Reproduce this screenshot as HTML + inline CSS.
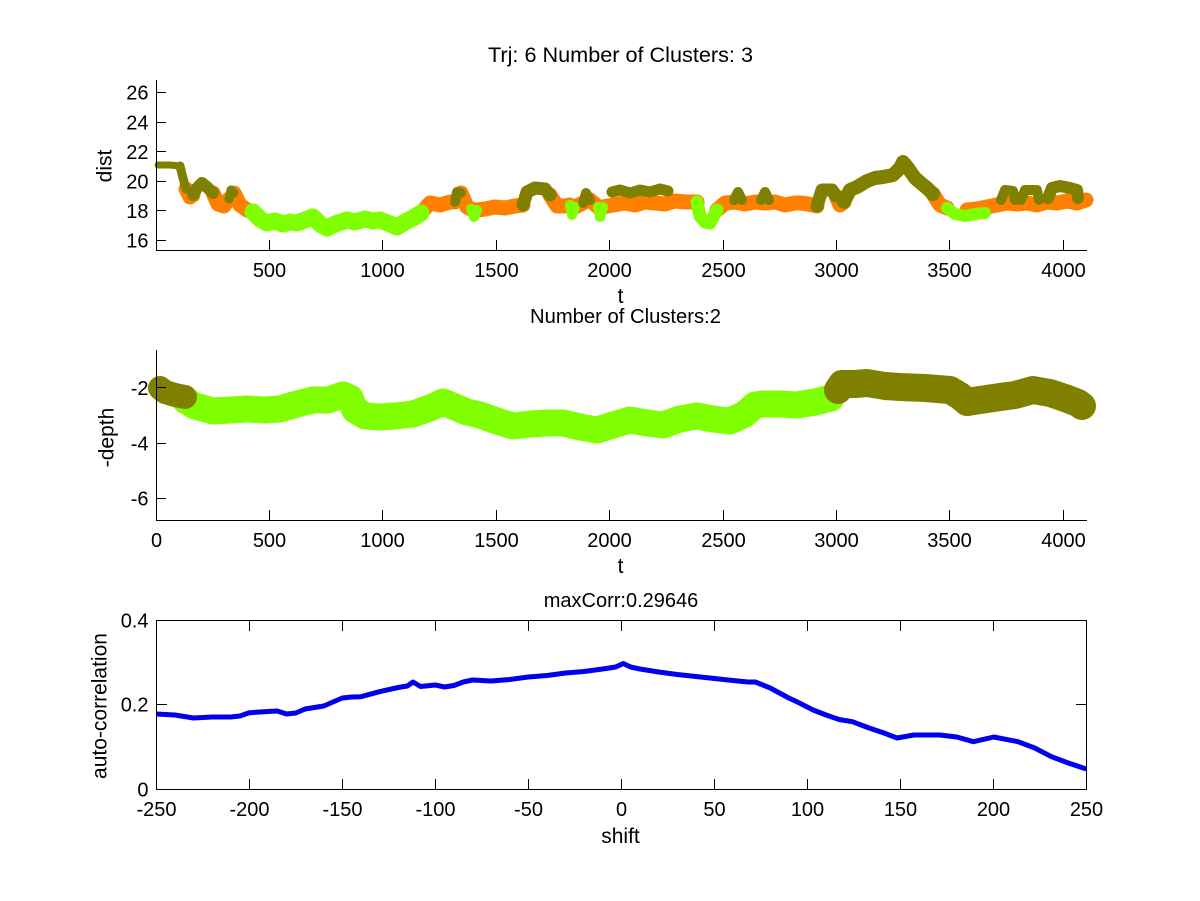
<!DOCTYPE html>
<html>
<head>
<meta charset="utf-8">
<style>
  html,body{margin:0;padding:0;background:#fff;}
  svg{display:block;}
  text{font-family:"Liberation Sans",Arial,sans-serif;fill:#000;}
</style>
</head>
<body>
<svg width="1200" height="901" viewBox="0 0 1200 901" xmlns="http://www.w3.org/2000/svg">
<rect x="0" y="0" width="1200" height="901" fill="#fff"/>

<!-- ================= TOP PLOT ================= -->
<g fill="none" stroke-linejoin="round" stroke-linecap="round">
  <g stroke="#ff8000" stroke-width="15">
    <polyline points="186,189 190,197 193,195"/>
    <polyline points="213,193 218,204 224,206 229,199"/>
    <polyline points="234,193 240,205 247,210 253,212"/>
    <polyline points="421,213 430,203 440,205 450,202 455,202"/>
    <polyline points="461,193 467,207 471,209"/>
    <polyline points="477,210 485,209 495,207 505,208 515,206 523,205"/>
    <polyline points="550,195 557,206 565,206 570,205"/>
    <polyline points="575,207 583,203"/>
    <polyline points="590,200 598,207"/>
    <polyline points="603,207 613,205 625,203 635,205 645,202 655,203 665,204 675,201 685,202 697,202"/>
    <polyline points="717,210 725,203 735,202 745,204 755,202 765,203 775,202 785,205 795,203 800,203 808,204 817,206"/>
    <polyline points="836,196 840,205 844,202"/>
    <polyline points="933,194 940,205 947,208"/>
    <polyline points="967,210 977,209 987,207 997,205 1007,203 1017,204 1027,203 1037,205 1047,202 1057,203 1067,201 1077,203 1086,200"/>
  </g>
  <g stroke="#80ff00">
    <polyline stroke-width="17" points="253,212 260,219 267,223 275,221 283,224 290,222 297,223 305,220 313,217 320,224 327,228 335,224 347,220 355,222 365,219 373,221 380,220 390,224 397,227 405,222 413,218 421,213"/>
    <polyline stroke-width="10" points="471,209 474,217 477,210"/>
    <polyline stroke-width="10" points="570,205 572,215 575,207"/>
    <polyline stroke-width="10" points="598,207 600,217 603,207"/>
    <polyline stroke-width="13" points="697,202 700,216 705,222 710,223 717,210"/>
    <polyline stroke-width="12" points="947,208 955,214 965,216 975,214 985,213"/>
  </g>
  <g stroke="#808000">
    <polyline stroke-width="7" points="158,165 170,165 180,166"/>
    <polyline stroke-width="9" points="180,166 183,178 186,189"/>
    <polyline stroke-width="12" points="193,195 197,188 202,183 208,188 213,193"/>
    <polyline stroke-width="9" points="229,199 231,190 234,193"/>
    <polyline stroke-width="10" points="455,202 457,192 461,193"/>
    <polyline stroke-width="13" points="523,205 527,192 535,188 545,189 550,195"/>
    <polyline stroke-width="10" points="583,203 586,193 590,200"/>
    <polyline stroke-width="11" points="612,192 620,190 630,193 640,190 650,192 660,189 668,191"/>
    <polyline stroke-width="10" points="734,200 738,192 742,200"/>
    <polyline stroke-width="10" points="761,200 765,192 769,200"/>
    <polyline stroke-width="13" points="817,206 822,190 832,190 836,196"/>
    <polyline stroke-width="14" points="844,202 850,190 857,187 867,181 875,178 883,177 893,175 900,168 903,162 908,168 915,178 922,184 927,188 933,194"/>
    <polyline stroke-width="10" points="1001,200 1005,190 1013,191 1015,200"/>
    <polyline stroke-width="10" points="1021,200 1025,190 1037,190 1039,200"/>
    <polyline stroke-width="12" points="1048,198 1052,188 1060,186 1070,188 1077,190 1078,198"/>
  </g>
</g>

<g stroke="#000" stroke-width="1" fill="none">
  <line x1="156.5" y1="80" x2="156.5" y2="250.5"/>
  <line x1="156" y1="250.5" x2="1087" y2="250.5"/>
  <line x1="269.5" y1="250" x2="269.5" y2="240"/>
  <line x1="382.5" y1="250" x2="382.5" y2="240"/>
  <line x1="496.5" y1="250" x2="496.5" y2="240"/>
  <line x1="609.5" y1="250" x2="609.5" y2="240"/>
  <line x1="723.5" y1="250" x2="723.5" y2="240"/>
  <line x1="836.5" y1="250" x2="836.5" y2="240"/>
  <line x1="949.5" y1="250" x2="949.5" y2="240"/>
  <line x1="1063.5" y1="250" x2="1063.5" y2="240"/>
  <line x1="156" y1="240.5" x2="166" y2="240.5"/>
  <line x1="156" y1="210.5" x2="166" y2="210.5"/>
  <line x1="156" y1="181.5" x2="166" y2="181.5"/>
  <line x1="156" y1="151.5" x2="166" y2="151.5"/>
  <line x1="156" y1="122.5" x2="166" y2="122.5"/>
  <line x1="156" y1="92.5" x2="166" y2="92.5"/>
</g>
<g font-size="20" text-anchor="middle">
  <text x="269.5" y="277">500</text>
  <text x="382.5" y="277">1000</text>
  <text x="496.5" y="277">1500</text>
  <text x="609.5" y="277">2000</text>
  <text x="723.5" y="277">2500</text>
  <text x="836.5" y="277">3000</text>
  <text x="949.5" y="277">3500</text>
  <text x="1063.5" y="277">4000</text>
</g>
<g font-size="20" text-anchor="end">
  <text x="148.5" y="247.5">16</text>
  <text x="148.5" y="218">18</text>
  <text x="148.5" y="188.5">20</text>
  <text x="148.5" y="159">22</text>
  <text x="148.5" y="129.5">24</text>
  <text x="148.5" y="99.5">26</text>
</g>
<text x="488" y="62" font-size="21" textLength="265" lengthAdjust="spacingAndGlyphs">Trj: 6 Number of Clusters: 3</text>
<text x="620.5" y="303" font-size="21" text-anchor="middle">t</text>
<text transform="translate(111.5,166) rotate(-90)" font-size="21" text-anchor="middle">dist</text>

<!-- ================= MIDDLE PLOT ================= -->
<g fill="none" stroke-linejoin="round" stroke-linecap="round">
  <polyline stroke="#80ff00" stroke-width="27" points="185,400 195,406 213,411 230,410 247,409 265,410 280,409 297,404 313,400 328,400 343,395 350,398 355,410 365,416 380,417 395,416 413,414 430,408 443,402 455,407 467,412 480,415 497,421 513,426 530,424 547,423 563,423 580,427 597,430 613,425 630,420 647,423 663,425 680,419 697,416 713,419 730,421 745,414 755,405 763,404 780,404 797,405 815,402 831,398"/>
  <polyline stroke="#808000" stroke-width="24" points="160,388 165,392 175,395 185,397"/>
  <polyline stroke="#808000" stroke-width="28" points="838,390 842,384 855,384 867,383 885,386 900,387 925,388 950,390 960,396 967,402 980,400 1000,397 1015,395 1033,390 1050,393 1065,398 1078,403 1082,406"/>
</g>
<g stroke="#000" stroke-width="1" fill="none">
  <line x1="156.5" y1="350" x2="156.5" y2="520.5"/>
  <line x1="156" y1="520.5" x2="1087" y2="520.5"/>
  <line x1="269.5" y1="520" x2="269.5" y2="510"/>
  <line x1="382.5" y1="520" x2="382.5" y2="510"/>
  <line x1="496.5" y1="520" x2="496.5" y2="510"/>
  <line x1="609.5" y1="520" x2="609.5" y2="510"/>
  <line x1="723.5" y1="520" x2="723.5" y2="510"/>
  <line x1="836.5" y1="520" x2="836.5" y2="510"/>
  <line x1="949.5" y1="520" x2="949.5" y2="510"/>
  <line x1="1063.5" y1="520" x2="1063.5" y2="510"/>
  <line x1="156" y1="387.5" x2="166" y2="387.5"/>
  <line x1="156" y1="443.5" x2="166" y2="443.5"/>
  <line x1="156" y1="498.5" x2="166" y2="498.5"/>
</g>
<g font-size="20" text-anchor="middle">
  <text x="156.5" y="547">0</text>
  <text x="269.5" y="547">500</text>
  <text x="382.5" y="547">1000</text>
  <text x="496.5" y="547">1500</text>
  <text x="609.5" y="547">2000</text>
  <text x="723.5" y="547">2500</text>
  <text x="836.5" y="547">3000</text>
  <text x="949.5" y="547">3500</text>
  <text x="1063.5" y="547">4000</text>
</g>
<g font-size="20" text-anchor="end">
  <text x="148.5" y="395">-2</text>
  <text x="148.5" y="450.5">-4</text>
  <text x="148.5" y="505.5">-6</text>
</g>
<text x="530" y="323" font-size="20.5" textLength="191" lengthAdjust="spacingAndGlyphs">Number of Clusters:2</text>
<text x="620.5" y="573" font-size="21" text-anchor="middle">t</text>
<text transform="translate(113.5,437.5) rotate(-90)" font-size="21" text-anchor="middle">-depth</text>

<!-- ================= BOTTOM PLOT ================= -->
<polyline fill="none" stroke="#0000ee" stroke-width="5" stroke-linejoin="round" points="156.3,714 174.9,715 193.5,718 212.1,717 230.7,717 240,716 249.3,712.7 267.9,711.5 277.2,711 286.5,714 295.8,713 305.1,709 323.7,706 333,702 342.3,698 351.6,697 360.9,696.7 379.5,691.7 398.1,687.5 407.4,686 413,682 420.5,686.5 435.3,685 444.6,687 453.9,685.5 463.2,682 472.5,680 491.1,681 509.7,679.5 528.3,677 546.9,675.5 565.5,673 584.1,671.5 602.7,669 615.7,667 623.2,663.5 630.7,667 640,669 658.6,672 677.2,674.5 695.8,676.5 714.4,678.5 733,680.5 747.9,682 755.3,682 770.2,688 788.8,698 800,703.3 813.1,710 826.1,715 839.1,719.5 852.4,721.7 869.1,728 884,733 897,738 913.8,735 939.9,735 956.7,737 973.4,741.7 993.8,737 1018,741.7 1034.7,748 1051.5,756.7 1068.3,763 1086.3,769"/>
<g stroke="#000" stroke-width="1" fill="none">
  <rect x="156.5" y="620.5" width="930" height="169"/>
  <line x1="249.5" y1="789" x2="249.5" y2="779"/>
  <line x1="342.5" y1="789" x2="342.5" y2="779"/>
  <line x1="435.5" y1="789" x2="435.5" y2="779"/>
  <line x1="528.5" y1="789" x2="528.5" y2="779"/>
  <line x1="621.5" y1="789" x2="621.5" y2="779"/>
  <line x1="714.5" y1="789" x2="714.5" y2="779"/>
  <line x1="807.5" y1="789" x2="807.5" y2="779"/>
  <line x1="900.5" y1="789" x2="900.5" y2="779"/>
  <line x1="993.5" y1="789" x2="993.5" y2="779"/>
  <line x1="249.5" y1="621" x2="249.5" y2="631"/>
  <line x1="342.5" y1="621" x2="342.5" y2="631"/>
  <line x1="435.5" y1="621" x2="435.5" y2="631"/>
  <line x1="528.5" y1="621" x2="528.5" y2="631"/>
  <line x1="621.5" y1="621" x2="621.5" y2="631"/>
  <line x1="714.5" y1="621" x2="714.5" y2="631"/>
  <line x1="807.5" y1="621" x2="807.5" y2="631"/>
  <line x1="900.5" y1="621" x2="900.5" y2="631"/>
  <line x1="993.5" y1="621" x2="993.5" y2="631"/>
  <line x1="157" y1="704.5" x2="167" y2="704.5"/>
  <line x1="1086" y1="704.5" x2="1076" y2="704.5"/>
</g>
<g font-size="20" text-anchor="middle">
  <text x="156.5" y="816">-250</text>
  <text x="249.5" y="816">-200</text>
  <text x="342.5" y="816">-150</text>
  <text x="435.5" y="816">-100</text>
  <text x="528.5" y="816">-50</text>
  <text x="621.5" y="816">0</text>
  <text x="714.5" y="816">50</text>
  <text x="807.5" y="816">100</text>
  <text x="900.5" y="816">150</text>
  <text x="993.5" y="816">200</text>
  <text x="1086.5" y="816">250</text>
</g>
<g font-size="20" text-anchor="end">
  <text x="148.5" y="796.5">0</text>
  <text x="148.5" y="711.5">0.2</text>
  <text x="148.5" y="627.5">0.4</text>
</g>
<text x="621" y="607" font-size="20" text-anchor="middle">maxCorr:0.29646</text>
<text x="620.5" y="843" font-size="21" text-anchor="middle">shift</text>
<text transform="translate(106.5,706) rotate(-90)" font-size="21" text-anchor="middle">auto-correlation</text>
</svg>
</body>
</html>
